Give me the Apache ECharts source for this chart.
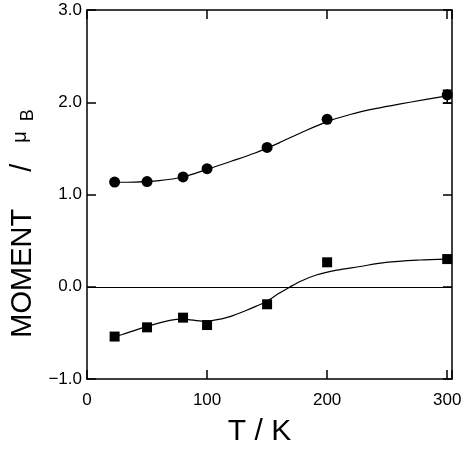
<!DOCTYPE html>
<html>
<head>
<meta charset="utf-8">
<script src="https://cdn.jsdelivr.net/npm/echarts@6/dist/echarts.min.js"></script>
<style>
  html, body { margin: 0; padding: 0; background: #fff; }
  #chart { width: 461px; height: 449px; }
</style>
</head>
<body>
<div id="chart"></div>
<script>
// Measured temperatures (K) and magnetic moments (μB)
const temps = [23, 50, 80, 100, 150, 200, 300];
const momentCircle = [1.135, 1.14, 1.19, 1.28, 1.51, 1.815, 2.08];
const momentSquare = [-0.54, -0.44, -0.335, -0.415, -0.19, 0.265, 0.30];

// Error bar on the 300 K circle point
const errT = [300];
const errLow = [1.99];
const errHigh = [2.13];

// Guide curves through each data set
const fitCircleT = [23, 40, 60, 80, 100, 120, 140, 160, 180, 200, 220, 240, 260, 280, 300];
const fitCircleM = [1.133, 1.135, 1.15, 1.19, 1.272, 1.36, 1.45, 1.56, 1.68, 1.79, 1.87, 1.93, 1.98, 2.025, 2.07];
const fitSquareT = [23, 30, 50, 69, 80, 97, 113, 122, 132, 141, 149, 160, 168, 177, 191, 208, 226, 249, 277, 300];
const fitSquareM = [-0.54, -0.515, -0.43, -0.364, -0.35, -0.375, -0.345, -0.31, -0.26, -0.21, -0.162, -0.071, -0.01, 0.055, 0.127, 0.18, 0.217, 0.265, 0.29, 0.30];

// Axis ranges and ticks
const xMin = 0, xMax = 304, xStep = 100;
const yMin = -1, yMax = 3, yStep = 1;

const FONT = '"Liberation Sans", Arial, Helvetica, sans-serif';
const INK = '#000';

const zip = (a, b) => a.map((v, i) => [v, b[i]]);

const chart = echarts.init(document.getElementById('chart'), null, { renderer: 'canvas' });

const axisLineStyle = { color: INK, width: 1.5 };
const tickCommon = { show: true, inside: true, length: 9, lineStyle: { color: INK, width: 1.5 } };

chart.setOption({
  animation: false,
  backgroundColor: '#fff',
  grid: { left: 87, right: 9, top: 10, bottom: 70, containLabel: false, outerBoundsMode: 'none' },
  xAxis: [
    {
      type: 'value', min: xMin, max: xMax, interval: xStep,
      position: 'bottom',
      axisLine: { show: true, onZero: false, lineStyle: axisLineStyle },
      axisTick: tickCommon,
      splitLine: { show: false },
      axisLabel: {
        color: INK, fontFamily: FONT, fontSize: 17, margin: 13,
        formatter: v => (v % xStep === 0 ? String(v) : '')
      },
      name: 'T / K',
      nameLocation: 'middle',
      nameGap: 38,
      nameTextStyle: { color: INK, fontFamily: FONT, fontSize: 30, padding: [0, 20, 0, 0] }
    },
    {
      type: 'value', min: xMin, max: xMax, interval: xStep,
      position: 'top',
      axisLine: { show: true, onZero: false, lineStyle: axisLineStyle },
      axisTick: tickCommon,
      splitLine: { show: false },
      axisLabel: { show: false }
    }
  ],
  yAxis: [
    {
      type: 'value', min: yMin, max: yMax, interval: yStep,
      position: 'left',
      axisLine: { show: true, onZero: false, lineStyle: axisLineStyle },
      axisTick: tickCommon,
      splitLine: { show: false },
      axisLabel: {
        color: INK, fontFamily: FONT, fontSize: 17, margin: 5,
        formatter: v => v.toFixed(1).replace('-', '\u2212')
      },
      name: '{a|MOMENT}{s|/}{m|μ}{b|B}',
      nameLocation: 'middle',
      nameGap: 44,
      nameTextStyle: {
        color: INK, fontFamily: FONT,
        padding: [0, 58, 0, 0],
        rich: {
          a: { fontFamily: FONT, fontSize: 29, lineHeight: 40, color: INK },
          s: { fontFamily: FONT, fontSize: 29, lineHeight: 40, color: INK, padding: [0, 21, 0, 37] },
          m: { fontFamily: FONT, fontSize: 20, lineHeight: 20, color: INK, padding: [0, 10, 5, 0] },
          b: { fontFamily: FONT, fontSize: 18, lineHeight: 18, color: INK, padding: [11, 0, 0, 0] }
        }
      }
    },
    {
      type: 'value', min: yMin, max: yMax, interval: yStep,
      position: 'right',
      axisLine: { show: true, onZero: false, lineStyle: axisLineStyle },
      axisTick: tickCommon,
      splitLine: { show: false },
      axisLabel: { show: false }
    }
  ],
  series: [
    {
      name: 'fitCircle',
      type: 'line',
      data: zip(fitCircleT, fitCircleM),
      smooth: 0.3,
      showSymbol: false,
      symbol: 'none',
      lineStyle: { color: INK, width: 1.2 },
      silent: true,
      z: 2
    },
    {
      name: 'fitSquare',
      type: 'line',
      data: zip(fitSquareT, fitSquareM),
      smooth: 0.3,
      showSymbol: false,
      symbol: 'none',
      lineStyle: { color: INK, width: 1.2 },
      silent: true,
      z: 2,
      markLine: {
        silent: true,
        symbol: 'none',
        label: { show: false },
        lineStyle: { color: INK, width: 1.2, type: 'solid' },
        data: [{ yAxis: 0 }]
      }
    },
    {
      name: 'errorBar',
      type: 'custom',
      data: errT.map((t, i) => [t, errLow[i], errHigh[i]]),
      clip: false,
      z: 3,
      renderItem: (params, api) => {
        const lo = api.coord([api.value(0), api.value(1)]);
        const hi = api.coord([api.value(0), api.value(2)]);
        const half = 4.5;
        const style = { stroke: INK, lineWidth: 1.5 };
        return {
          type: 'group',
          children: [
            { type: 'line', shape: { x1: lo[0], y1: lo[1], x2: hi[0], y2: hi[1] }, style },
            { type: 'line', shape: { x1: lo[0] - half, y1: lo[1], x2: lo[0] + half, y2: lo[1] }, style },
            { type: 'line', shape: { x1: hi[0] - half, y1: hi[1], x2: hi[0] + half, y2: hi[1] }, style }
          ]
        };
      }
    },
    {
      name: 'circles',
      type: 'scatter',
      data: zip(temps, momentCircle),
      symbol: 'circle',
      symbolSize: 11,
      itemStyle: { color: INK, opacity: 1 },
      clip: false,
      z: 4
    },
    {
      name: 'squares',
      type: 'scatter',
      data: zip(temps, momentSquare),
      symbol: 'rect',
      symbolSize: 10,
      itemStyle: { color: INK, opacity: 1 },
      clip: false,
      z: 4
    }
  ]
});
</script>
</body>
</html>
